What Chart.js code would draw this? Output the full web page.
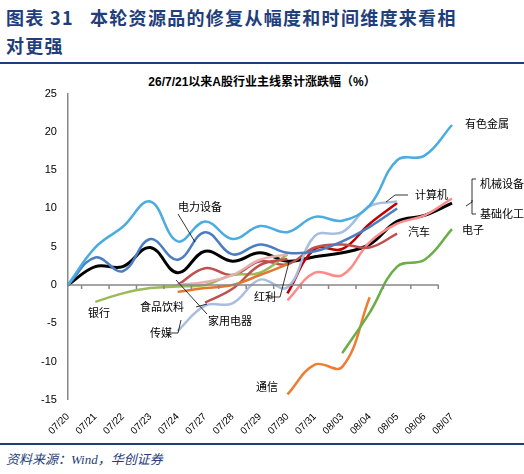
<!DOCTYPE html><html><head><meta charset="utf-8">
<script src="https://cdn.jsdelivr.net/npm/chart.js@4"></script>
<style>
body{margin:0;width:524px;height:474px;position:relative;background:#fff;font-family:"Noto Sans CJK SC";overflow:hidden}
#hd{position:absolute;left:6px;top:3px;width:512px;color:#1F3E7A;font-weight:bold;font-size:18px;line-height:28px;letter-spacing:1.3px}
#l1{position:absolute;left:0;top:62px;width:524px;height:2px;background:#1F3E7A}
#l2{position:absolute;left:0;top:443px;width:524px;height:2px;background:#1F3E7A}
#ft{position:absolute;left:6px;top:449px;font-size:13px;font-style:italic;color:#1F3E7A;font-family:"Liberation Serif","Noto Sans CJK SC"}
#ct{position:absolute;left:0;width:524px;top:72px;text-align:center;font-size:12px;font-weight:bold;font-family:"Liberation Sans","Noto Sans CJK SC"}
#w{position:absolute;left:0;top:84px;width:524px;height:356px}
</style></head><body>
<div id="hd">图表 31&nbsp;&nbsp;&nbsp;本轮资源品的修复从幅度和时间维度来看相<br>对更强</div>
<div id="l1"></div>
<div id="ct">26/7/21以来A股行业主线累计涨跌幅（%）</div>
<div id="w"><canvas id="c"></canvas></div>
<div id="l2"></div>
<div id="ft">资料来源：Wind，华创证券</div>
<script>
const cats=["07/20","07/21","07/22","07/23","07/24","07/27","07/28","07/29","07/30","07/31","08/03","08/04","08/05","08/06","08/07"];
const yTicks=[-15,-10,-5,0,5,10,15,20,25];
const N=null;
const youse=[0,4.9,7.6,10.9,5.7,8.3,6.0,7.7,6.9,8.9,8.4,10.4,16.3,16.9,20.9];
const dianli=[0,3.6,1.8,6.0,3.3,6.9,4.0,5.3,4.2,4.4,5.7,7.6,10.0,N,N];
const jichu=[0,2.4,2.4,4.9,1.6,4.4,3.1,4.2,3.1,3.7,4.2,5.3,8.3,9.1,10.7];
const jixie=[N,N,N,N,N,N,N,N,-2.0,1.6,1.3,5.6,8.0,9.1,11.3];
const jisuanji=[N,N,N,N,N,N,N,N,-1.1,4.7,4.7,8.0,10.7,N,N];
const chuanmei=[N,N,N,N,-6.0,-2.7,-2.4,0.7,-0.3,6.4,6.9,10.3,10.9,N,N];
const qiche=[N,N,N,N,0,2.2,1.3,3.1,2.7,4.9,5.3,4.9,6.7,N,N];
const hongli=[N,N,N,N,0,0.4,1.3,3.3,4.0,N,N,N,N,N,N];
const shipin=[N,N,N,N,N,-2.3,-0.5,2.6,3.4,N,N,N,N,N,N];
const jiayong=[N,N,N,N,-0.9,-0.4,0,1.3,2.7,N,N,N,N,N,N];
const yinhang=[N,-2.2,-1.1,-0.4,-0.2,0,1.3,1.6,4.0,N,N,N,N,N,N];
const dianzi=[N,N,N,N,N,N,N,N,N,N,-8.9,-3.6,2.4,3.3,7.3];
const tongxin=[N,N,N,N,N,N,N,N,-14.3,-10.4,-10.7,-1.6,N,N,N];
const ser=[[youse,"#4BACE0"],[dianli,"#4A7EC0"],[chuanmei,"#A8BEE0"],[hongli,"#E6B0AE"],[jiayong,"#E07830"],[shipin,"#C0504D"],[yinhang,"#9BBB59"],[qiche,"#C0504D"],[jixie,"#FF8A8A"],[jisuanji,"#C00000"],[dianzi,"#6AAE45"],[tongxin,"#ED7D31"],[jichu,"#000000"]];
const labels=[["有色金属",465,40],["机械设备",480,100],["基础化工",480,130],["电子",462,146],["计算机",415,111],["汽车",408,148],["电力设备",178,123],["红利",254,213],["食品饮料",140,223],["家用电器",208,237],["传媒",150,249],["银行",88,229],["通信",256,303]];
const leaders=[[[408,111],[395,111],[386,118]],[[476,95],[472,95],[472,118],[466,122]],[[476,130],[472,130],[472,116]],[[269,213],[280,213],[289,178]],[[196,223],[207,220]],[[207,230],[176,196]],[[178,130],[195,158]],[[166,249],[178,249],[181,236]]];
const ann={id:"ann",afterDatasetsDraw(ch){const c=ch.ctx,x=ch.scales.x,y=ch.scales.y;c.save();
c.strokeStyle="#888";c.lineWidth=1.5;const y0=y.getPixelForValue(0);c.beginPath();c.moveTo(x.left,y0);c.lineTo(x.getPixelForValue(13)+14,y0);
for(let i=0;i<14;i++){const px=(x.getPixelForValue(i)+x.getPixelForValue(i+1))/2;c.moveTo(px,y0);c.lineTo(px,y0+4);}c.stroke();
c.font="11px 'Noto Sans CJK SC'";c.fillStyle="#000";c.textBaseline="middle";for(const l of labels)c.fillText(l[0],l[1],l[2]);
c.strokeStyle="#000";c.lineWidth=0.8;for(const p of leaders){c.beginPath();c.moveTo(p[0][0],p[0][1]);for(const q of p.slice(1))c.lineTo(q[0],q[1]);c.stroke();}
c.restore();}};
new Chart(document.getElementById("c"),{type:"line",data:{labels:cats,datasets:ser.map(s=>({data:s[0],borderColor:s[1],borderWidth:s[1]=="#000000"?3:2.5,pointRadius:0,tension:0.4,spanGaps:false,fill:false}))},
options:{responsive:true,maintainAspectRatio:false,animation:false,layout:{padding:{left:38,right:72,top:2}},plugins:{legend:{display:false},tooltip:{enabled:false}},
scales:{x:{offset:false,grid:{display:false},border:{display:false},ticks:{maxRotation:45,minRotation:45,font:{size:10,family:"Liberation Sans"},color:"#000"}},
y:{min:-15,max:25,afterBuildTicks(a){a.ticks=yTicks.map(v=>({value:v}));},grid:{display:false,drawTicks:true},border:{color:"#888",width:1.5},ticks:{font:{size:11,family:"Liberation Sans"},color:"#000"}}}},plugins:[ann]});
</script></body></html>
